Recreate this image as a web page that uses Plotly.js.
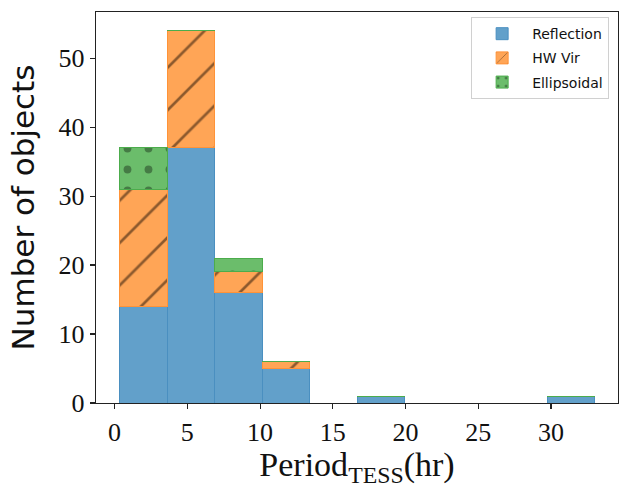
<!DOCTYPE html>
<html>
<head>
<meta charset="utf-8">
<script src="https://cdn.plot.ly/plotly-3.0.1.min.js"></script>
<style>html,body{margin:0;padding:0;background:#fff;}#chart{width:619px;height:488px;}</style>
</head>
<body>
<div id="chart"></div>
<script>
// Histogram bin edges (hours)
const binEdges = [0.34, 3.61, 6.87, 10.14, 13.40, 16.67, 19.93, 23.20, 26.46, 29.73, 32.99];
// Counts per bin for each class
const reflection  = [14, 37, 16, 5, 0, 1, 0, 0, 0, 1];
const hwVir       = [17, 17, 3, 1, 0, 0, 0, 0, 0, 0];
const ellipsoidal = [6, 0, 2, 0, 0, 0, 0, 0, 0, 0];
const seriesNames = ['Reflection', 'HW Vir', 'Ellipsoidal'];
const xTicks = [0, 5, 10, 15, 20, 25, 30];
const yTicks = [0, 10, 20, 30, 40, 50];

const centers = binEdges.slice(0, -1).map((e, i) => (e + binEdges[i + 1]) / 2);
const widths = binEdges.slice(0, -1).map((e, i) => binEdges[i + 1] - e);

function barTrace(name, y, fill, edge, pattern, group) {
  return {
    type: 'bar', name: name, x: centers, y: y, width: widths,
    legendgroup: group,
    marker: {color: fill, line: {color: edge, width: 1}, pattern: pattern},
    hoverinfo: 'x+y+name'
  };
}

const data = [
  barTrace(seriesNames[0], reflection, '#62a0ca', '#4a8fc0', {shape: ''}, 'g1'),
  barTrace(seriesNames[1], hwVir, '#ffa556', '#ff9338',
    {shape: '/', fillmode: 'overlay', bgcolor: '#ffa556', fgcolor: '#1a0e04', size: 30, solidity: 0.09}, 'g2'),
  barTrace(seriesNames[2], ellipsoidal, '#6bbd6b', '#4cac4c',
    {shape: '.', fillmode: 'overlay', bgcolor: '#6bbd6b', fgcolor: '#1f3a1f', size: 21, solidity: 0.11}, 'g3')
];

const serif = 'Liberation Serif, DejaVu Serif, serif';
const sans = 'DejaVu Sans, Noto Sans, sans-serif';

const layout = {
  width: 619, height: 488,
  margin: {l: 96, r: 1, t: 12, b: 85, pad: 0},
  paper_bgcolor: '#fff', plot_bgcolor: '#fff',
  barmode: 'stack', bargap: 0,
  showlegend: true,
  legend: {
    x: 0.983, y: 0.987, xanchor: 'right', yanchor: 'top',
    bgcolor: 'rgba(255,255,255,0.85)', bordercolor: '#d0d0d0', borderwidth: 1,
    font: {family: sans, size: 14, color: '#111'},
    traceorder: 'grouped', tracegroupgap: 3,
    itemwidth: 50
  },
  xaxis: {
    range: [-1.28, 34.6],
    tickmode: 'array', tickvals: xTicks, ticktext: xTicks.map(String),
    ticks: 'outside', ticklen: 5, tickwidth: 1.2, tickcolor: '#222',
    showline: true, linecolor: '#222', linewidth: 1.3, mirror: true,
    showgrid: false, zeroline: false,
    tickfont: {family: serif, size: 26, color: '#111'},
    title: {text: 'Period<sub>TESS</sub>(hr)', font: {family: serif, size: 34, color: '#111'}, standoff: 8}
  },
  yaxis: {
    range: [0, 56.7],
    tickmode: 'array', tickvals: yTicks, ticktext: yTicks.map(String),
    ticks: 'outside', ticklen: 5, tickwidth: 1.2, tickcolor: '#222',
    showline: true, linecolor: '#222', linewidth: 1.3, mirror: true,
    showgrid: false, zeroline: false,
    tickfont: {family: serif, size: 26, color: '#111'},
    title: {text: 'Number of objects', font: {family: sans, size: 31, color: '#111'}, standoff: 14}
  }
};

Plotly.newPlot('chart', data, layout, {displayModeBar: false, staticPlot: true});
</script>
</body>
</html>
